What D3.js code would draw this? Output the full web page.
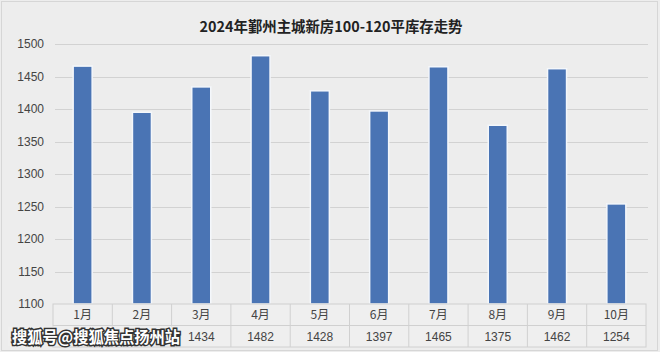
<!DOCTYPE html>
<html lang="zh">
<head>
<meta charset="utf-8">
<title>2024年鄞州主城新房100-120平库存走势</title>
<script src="https://d3js.org/d3.v7.min.js"></script>
<style>
  body{margin:0;background:#fff;font-family:"Noto Sans CJK SC","Microsoft YaHei",sans-serif;}
  svg{display:block;}
</style>
</head>
<body>
<div id="chart"></div>
<script>
// data
var months = ["1月","2月","3月","4月","5月","6月","7月","8月","9月","10月"]
var stock = [1466,1395,1434,1482,1428,1397,1465,1375,1462,1254]
var yTicks = [1100,1150,1200,1250,1300,1350,1400,1450,1500]
var title = "2024年鄞州主城新房100-120平库存走势"
var watermark = "搜狐号@搜狐焦点扬州站"
// the watermark hides the table values of the first two months
var hiddenVals = 2

var W = 660, H = 352
var mLeft = 53, mRight = 646, mTop = 44, mBottom = 304
var rowH = 21.5

var svg = d3.select("#chart").append("svg").attr("width",W).attr("height",H)

// background + thin frame
svg.append("rect").attr("width",W).attr("height",H).attr("fill","#ededed")
svg.append("rect").attr("x",1.5).attr("y",1.5).attr("width",W-4).attr("height",H-3)
  .attr("fill","none").attr("stroke","#d6d6d6").attr("stroke-width",1)

var x = d3.scaleBand().domain(months).range([mLeft,mRight])
var y = d3.scaleLinear().domain([1100,1500]).range([mBottom,mTop])

// title
svg.append("text").attr("x",331).attr("y",32).attr("text-anchor","middle")
  .attr("font-size",14.4).attr("font-weight","bold").attr("fill","#222")
  .text(title)

// gridlines
svg.append("g").selectAll("line").data(yTicks.slice(1)).join("line")
  .attr("x1",55).attr("x2",648)
  .attr("y1",function(d){return Math.round(y(d))+0.5})
  .attr("y2",function(d){return Math.round(y(d))+0.5})
  .attr("stroke","#d2d2d2")

// y axis labels via d3 axis
var yAxis = svg.append("g").attr("transform","translate(44,0)")
  .call(d3.axisLeft(y).tickValues(yTicks).tickSize(0).tickPadding(0).tickFormat(d3.format("d")))
yAxis.select(".domain").remove()
yAxis.selectAll("text").attr("font-size",12).attr("fill","#444")
  .attr("font-family","Liberation Sans, Arial, sans-serif")

// bars
var bw = 19
svg.append("g").selectAll("rect").data(stock).join("rect")
  .attr("x",function(d,i){return x(months[i])+x.bandwidth()/2-bw/2})
  .attr("y",function(d){return y(d)})
  .attr("width",bw)
  .attr("height",function(d){return mBottom-y(d)})
  .attr("fill","#4a74b4")
  .attr("stroke","#f4f7fb").attr("stroke-width",1.5)

// data table
var table = svg.append("g")
table.append("rect").attr("x",mLeft).attr("y",mBottom).attr("width",mRight-mLeft).attr("height",rowH*2)
  .attr("fill","#efefef").attr("stroke","#d0d0d0")
table.append("line").attr("x1",mLeft).attr("x2",mRight)
  .attr("y1",mBottom+rowH).attr("y2",mBottom+rowH).attr("stroke","#d0d0d0")
table.selectAll(".col").data(months.slice(1)).join("line").attr("class","col")
  .attr("x1",function(d){return x(d)}).attr("x2",function(d){return x(d)})
  .attr("y1",mBottom).attr("y2",mBottom+rowH*2).attr("stroke","#d0d0d0")

table.selectAll(".cat").data(months).join("text").attr("class","cat")
  .attr("x",function(d){return x(d)+x.bandwidth()/2})
  .attr("y",mBottom+rowH/2+4.5).attr("text-anchor","middle")
  .attr("font-size",12).attr("fill","#444").text(function(d){return d})

table.selectAll(".val").data(stock.slice(hiddenVals)).join("text").attr("class","val")
  .attr("x",function(d,i){return x(months[i+hiddenVals])+x.bandwidth()/2})
  .attr("y",mBottom+rowH*1.5+4.5).attr("text-anchor","middle")
  .attr("font-size",12).attr("fill","#444")
  .attr("font-family","Liberation Sans, Arial, sans-serif")
  .text(function(d){return d})

// watermark over the bottom-left of the table
svg.append("rect").attr("x",8).attr("y",mBottom+rowH+1).attr("width",170).attr("height",rowH-2)
  .attr("fill","#efefef")
svg.append("text").attr("x",12).attr("y",mBottom+rowH*1.5+6.5)
  .attr("font-size",16).attr("font-weight","bold")
  .attr("textLength",168).attr("lengthAdjust","spacingAndGlyphs")
  .attr("fill","#fff").attr("stroke","#333").attr("stroke-width",3)
  .attr("paint-order","stroke")
  .text(watermark)
</script>
</body>
</html>
